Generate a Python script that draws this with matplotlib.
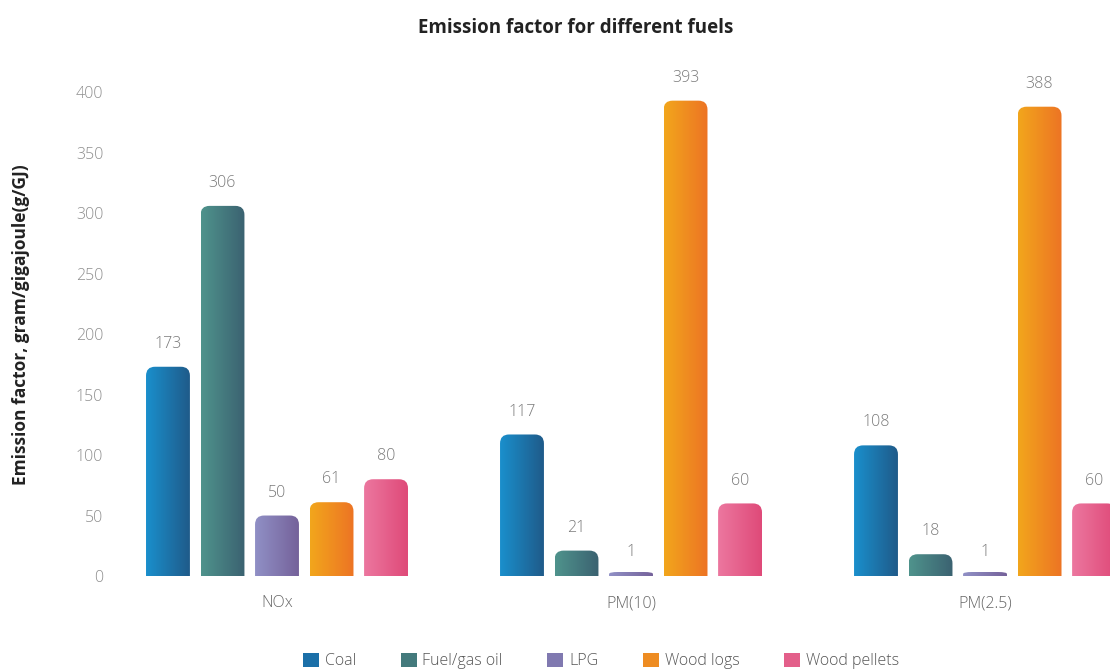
import numpy as np
import matplotlib
matplotlib.use("Agg")
import matplotlib.pyplot as plt
from matplotlib.path import Path
from matplotlib.patches import PathPatch, Patch
from matplotlib.colors import LinearSegmentedColormap

plt.rcParams['font.family'] = ['Open Sans', 'DejaVu Sans']

categories = ["NOx", "PM(10)", "PM(2.5)"]
fuels = ["Coal", "Fuel/gas oil", "LPG", "Wood logs", "Wood pellets"]
coal = [173, 117, 108]
fuel_gas_oil = [306, 21, 18]
lpg = [50, 1, 1]
wood_logs = [61, 393, 388]
wood_pellets = [80, 60, 60]
series = [coal, fuel_gas_oil, lpg, wood_logs, wood_pellets]

# left/right colour of each bar's horizontal gradient
grad = [("#1a8fcc", "#1f5b8a"),
        ("#4f938c", "#3b6271"),
        ("#9090c6", "#75629a"),
        ("#f2a61c", "#ed7424"),
        ("#ec779f", "#df4a79")]
legend_cols = ["#1b6fa8", "#437a7c", "#8079b0", "#ee8c22", "#e35f8a"]

W, H = 1110, 672
fig = plt.figure(figsize=(W / 100, H / 100), dpi=100)
ax = fig.add_axes([120 / W, 1 - 576 / H, 1 - 120 / W, (576 - 68) / H])

x = np.arange(len(categories))
step = 0.154
width = 0.124
ax.set_xlim(-0.4435, 2.353)
ax.set_ylim(0, 420)

r_px = 9
min_px = 4  # thin bars still show as a small strip
for i, vals in enumerate(series):
    bars = ax.bar(x + (i - 2) * step, vals, width, visible=False)
    cmap = LinearSegmentedColormap.from_list("g%d" % i, grad[i])
    for b in bars:
        x0, w, h = b.get_x(), b.get_width(), b.get_height()
        x1 = x0 + w
        p0 = ax.transData.transform((0, 0))
        p1 = ax.transData.transform((1, 1))
        sx, sy = p1[0] - p0[0], p1[1] - p0[1]
        hv = max(h, min_px / sy)
        rx = r_px / sx
        ry = min(r_px / sy, hv / 2)
        verts = [(x0, 0), (x0, hv - ry), (x0, hv), (x0 + rx, hv),
                 (x1 - rx, hv), (x1, hv), (x1, hv - ry), (x1, 0), (x0, 0)]
        codes = [Path.MOVETO, Path.LINETO, Path.CURVE3, Path.CURVE3,
                 Path.LINETO, Path.CURVE3, Path.CURVE3, Path.LINETO, Path.CLOSEPOLY]
        patch = PathPatch(Path(verts, codes), facecolor="none", edgecolor="none")
        ax.add_patch(patch)
        im = ax.imshow(np.linspace(0, 1, 64).reshape(1, -1), cmap=cmap,
                       extent=(x0, x1, 0, hv), aspect="auto", origin="lower",
                       interpolation="bilinear", zorder=2)
        im.set_clip_path(patch)
        ax.annotate(str(int(h)), (x0 + w / 2, h), xytext=(0, 16.5),
                    textcoords="offset points", ha="center", va="center",
                    fontsize=11.5, color="#7a7a7a", fontweight="light")

ax.set_xlim(-0.4435, 2.353)
ax.set_ylim(0, 420)
ax.set_xticks(x)
ax.set_xticklabels(categories)
ax.set_yticks(np.arange(0, 401, 50))
ax.tick_params(axis="x", length=0, pad=14, labelsize=11.5, labelcolor="#666666")
ax.tick_params(axis="y", length=0, pad=12, labelsize=11.5, labelcolor="#8f8f8f")
for lab in ax.get_xticklabels() + ax.get_yticklabels():
    lab.set_fontweight("light")
for s in ax.spines.values():
    s.set_visible(False)

fig.text(576 / W, 1 - 28 / H, "Emission factor for different fuels",
         ha="center", va="center", fontsize=13.5, fontweight="bold", color="#222222")
fig.text(21 / W, 1 - 325 / H, "Emission factor, gram/gigajoule(g/GJ)",
         rotation=90, ha="center", va="center", fontsize=12.5, fontweight="bold",
         color="#222222")

handles = [Patch(facecolor=c, edgecolor="none") for c in legend_cols]
leg = fig.legend(handles, fuels, loc="center", bbox_to_anchor=(601 / W, 1 - 661 / H),
                 ncol=5, frameon=False, fontsize=11.5, handlelength=1.0, handleheight=1.0,
                 handletextpad=0.35, columnspacing=2.8, labelcolor="#555555")
for t in leg.get_texts():
    t.set_fontweight("light")

fig.savefig("out.png", dpi=100)
